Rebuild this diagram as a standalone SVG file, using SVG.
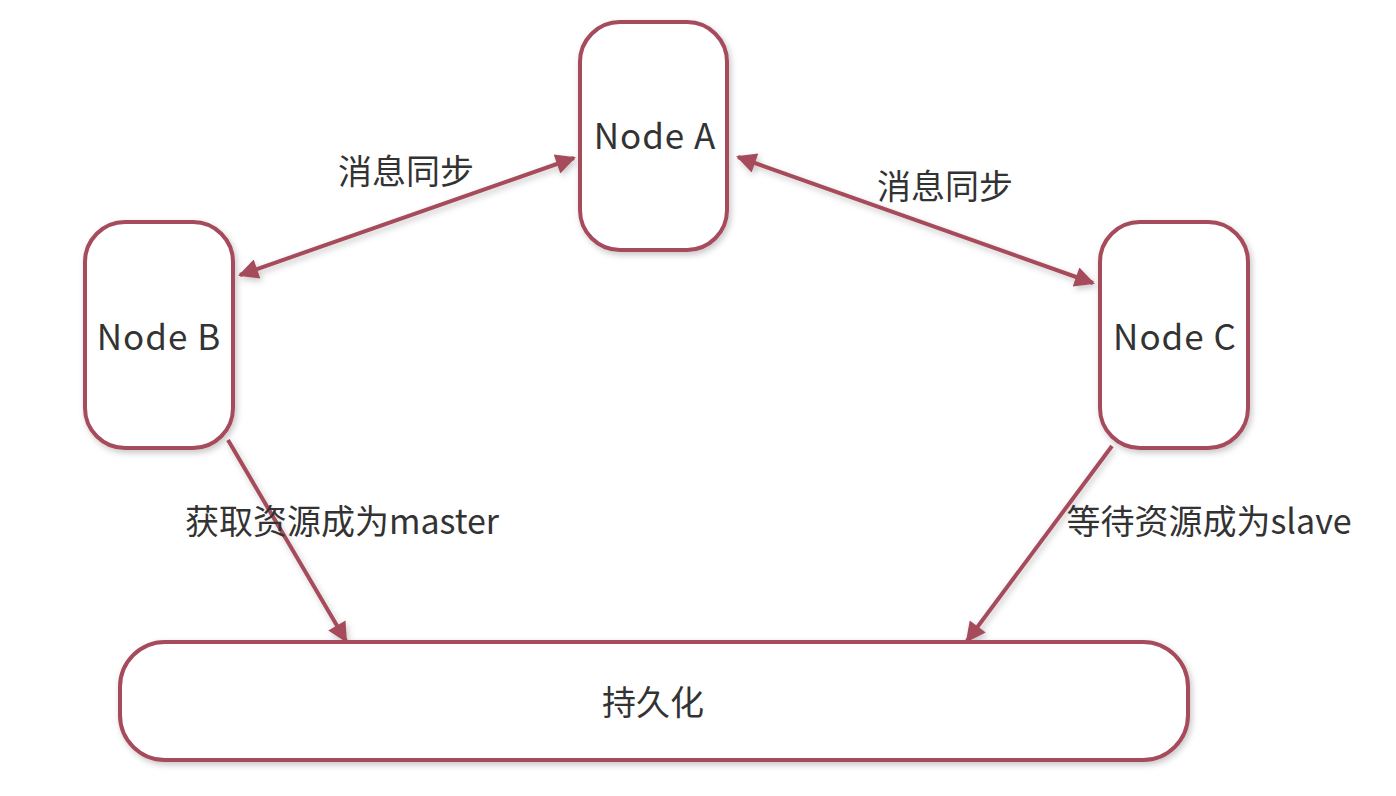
<svg xmlns="http://www.w3.org/2000/svg" width="1396" height="796" viewBox="0 0 1396 796">
<defs>
<filter id="sh" x="-10%" y="-10%" width="130%" height="130%">
<feDropShadow dx="2" dy="3" stdDeviation="3" flood-color="#000" flood-opacity="0.22"/>
</filter>
<marker id="ah" viewBox="0 0 10 10" refX="9" refY="5" markerWidth="5.5" markerHeight="5" orient="auto-start-reverse" markerUnits="strokeWidth">
<path d="M0,0 L10,5 L0,10 Z" fill="#A64B5B"/>
</marker>
<style>
.box{fill:#fff;stroke:#A64B5B;stroke-width:4;filter:url(#sh)}
.lbl{font-family:"Noto Sans CJK SC","Noto Sans",sans-serif;font-size:34px;fill:#333;text-anchor:middle}
.nd{font-size:35px;letter-spacing:1px}
.cn{fill:none;stroke:#A64B5B;stroke-width:4;filter:url(#sh)}
</style>
</defs>
<rect width="1396" height="796" fill="#fff"/>
<g id="connectors">
<line class="cn" x1="574" y1="158" x2="240" y2="275" marker-start="url(#ah)" marker-end="url(#ah)"/>
<line class="cn" x1="738" y1="157" x2="1093" y2="283" marker-start="url(#ah)" marker-end="url(#ah)"/>
<line class="cn" x1="228" y1="440" x2="346" y2="641" marker-end="url(#ah)"/>
<line class="cn" x1="1112" y1="446" x2="967" y2="641" marker-end="url(#ah)"/>
<text class="lbl" x="406" y="184">消息同步</text>
<text class="lbl" x="945" y="199">消息同步</text>
<text class="lbl" x="342" y="534">获取资源成为master</text>
<text class="lbl" x="1209" y="534">等待资源成为slave</text>
</g>
<g id="nodeA">
<rect class="box" x="580" y="22" width="147" height="228" rx="40"/>
<text class="lbl nd" x="655" y="149">Node A</text>
</g>
<g id="nodeB">
<rect class="box" x="85" y="222" width="148" height="226" rx="40"/>
<text class="lbl nd" x="159" y="350">Node B</text>
</g>
<g id="nodeC">
<rect class="box" x="1100" y="222" width="148" height="226" rx="40"/>
<text class="lbl nd" x="1175" y="350">Node C</text>
</g>
<g id="persist">
<rect class="box" x="120" y="642" width="1068" height="118" rx="45"/>
<text class="lbl" x="653" y="715">持久化</text>
</g>
</svg>
